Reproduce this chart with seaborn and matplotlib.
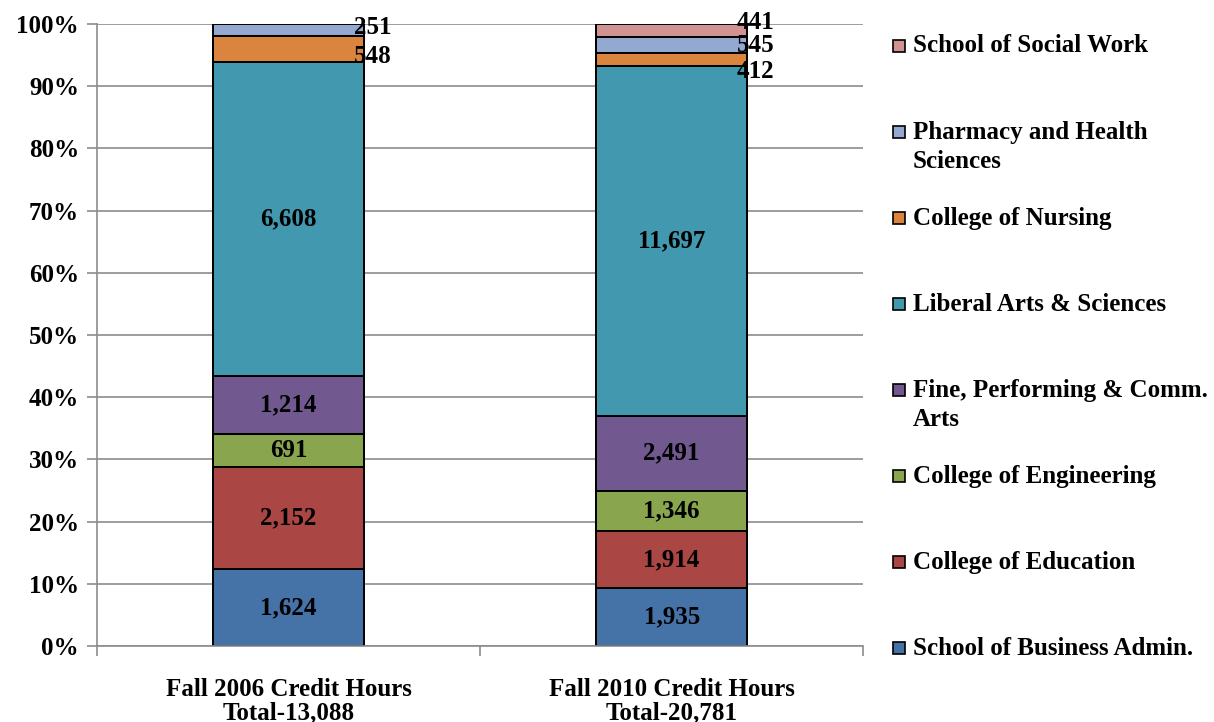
import numpy as np
import pandas as pd
import matplotlib
matplotlib.use("Agg")
import matplotlib.pyplot as plt
import seaborn as sns
from matplotlib.patches import Rectangle

# Datos (horas de crédito por facultad)
colleges = ["School of Business Admin.", "College of Education", "College of Engineering",
            "Fine, Performing & Comm.\nArts", "Liberal Arts & Sciences", "College of Nursing",
            "Pharmacy and Health\nSciences", "School of Social Work"]
terms = ["Fall 2006 Credit Hours\nTotal-13,088", "Fall 2010 Credit Hours\nTotal-20,781"]
hours_2006 = [1624, 2152, 691, 1214, 6608, 548, 251, 0]
hours_2010 = [1935, 1914, 1346, 2491, 11697, 412, 545, 441]
colors = ["#4572A7", "#AA4643", "#89A54E", "#71588F", "#4198AF", "#DB843D", "#93A9CF", "#D19392"]

# desplazamiento vertical (en puntos %) de las etiquetas pequeñas, como en Excel
nudge_2006 = {"College of Nursing": -1.3, "Pharmacy and Health\nSciences": 0.3}
nudge_2010 = {"School of Social Work": 1.3, "College of Nursing": -1.9}

FS = 18


def setup_style():
    sns.set_theme(style="white")
    plt.rcParams['font.family'] = ['Liberation Serif', 'DejaVu Serif']
    plt.rcParams['font.weight'] = 'bold'
    plt.rcParams['text.color'] = 'black'
    plt.rcParams['xtick.labelcolor'] = 'black'
    plt.rcParams['ytick.labelcolor'] = 'black'


def main():
    setup_style()

    rows = []
    for term, vals in zip(terms, [hours_2006, hours_2010]):
        total = sum(vals)
        cum = 0.0
        for col, v in zip(colleges, vals):
            pct = v / total * 100
            rows.append({"term": term, "college": col, "hours": v,
                         "pct": pct, "bottom": cum, "top": cum + pct})
            cum += pct
    df = pd.DataFrame(rows)

    fig = plt.figure(figsize=(12.14, 7.22), dpi=100)
    ax = fig.add_axes([0.080, 0.105, 0.631, 0.862])

    # Barras apiladas: se dibuja el acumulado de arriba hacia abajo
    for col, c in reversed(list(zip(colleges, colors))):
        sub = df[(df["college"] == col) & (df["hours"] > 0)]
        sns.barplot(data=sub, x="term", y="top", order=terms, color=c, ax=ax,
                    width=0.395, edgecolor="black", linewidth=1.4, saturation=1)

    # Etiquetas de valores
    for i, term in enumerate(terms):
        nudge = nudge_2006 if i == 0 else nudge_2010
        sub = df[(df["term"] == term) & (df["hours"] > 0)]
        for _, r in sub.iterrows():
            y = (r["bottom"] + r["top"]) / 2
            txt = f"{r['hours']:,}"
            if r["pct"] < 5:
                ax.text(i + 0.395 / 2 - 0.027, y + nudge.get(r["college"], 0), txt,
                        ha="left", va="center", fontsize=FS, fontweight="bold")
            else:
                ax.text(i, y, txt, ha="center", va="center", fontsize=FS,
                        fontweight="bold")

    ax.set_xlim(-0.5, 1.5)
    ax.set_ylim(0, 100)
    ax.set_yticks(np.arange(0, 101, 10))
    ax.set_yticklabels([f"{t}%" for t in range(0, 101, 10)], fontsize=FS, fontweight="bold")
    ax.yaxis.grid(True, color="#8c8c8c", linewidth=1.2)
    ax.set_axisbelow(True)
    ax.set_xlabel("")
    ax.set_ylabel("")
    ax.set_xticks([0, 1])
    ax.set_xticklabels(terms, fontsize=FS, fontweight="bold", linespacing=1.0)
    ax.tick_params(axis="x", length=0, pad=23)
    ax.tick_params(axis="y", length=7, width=1.2, color="#8c8c8c", left=True, pad=6)
    # marcas entre categorías
    ax.set_xticks([-0.5, 0.5, 1.5], minor=True)
    ax.tick_params(axis="x", which="minor", length=7, width=1.2, color="#8c8c8c", bottom=True)

    for s in ["top", "right"]:
        ax.spines[s].set_visible(False)
    for s in ["left", "bottom"]:
        ax.spines[s].set_color("#8c8c8c")
        ax.spines[s].set_linewidth(1.2)

    # Leyenda manual (orden inverso, espaciado regular)
    leg_items = list(reversed(list(zip(colleges, colors))))
    top_y, step = 1 - 46 / 722, 86.0 / 722
    for k, (col, c) in enumerate(leg_items):
        y = top_y - k * step
        fig.patches.append(Rectangle((893 / 1214, y - 6 / 722), 12 / 1214, 12 / 722,
                                     transform=fig.transFigure, facecolor=c,
                                     edgecolor="black", linewidth=1.2))
        lines = col.split("\n")
        fig.text(913 / 1214, y, lines[0], ha="left", va="center",
                 fontsize=FS, fontweight="bold")
        if len(lines) > 1:
            fig.text(913 / 1214, y - 29 / 722, lines[1], ha="left", va="center",
                     fontsize=FS, fontweight="bold")

    fig.savefig("out.png", dpi=100)
    plt.close(fig)


if __name__ == "__main__":
    main()
